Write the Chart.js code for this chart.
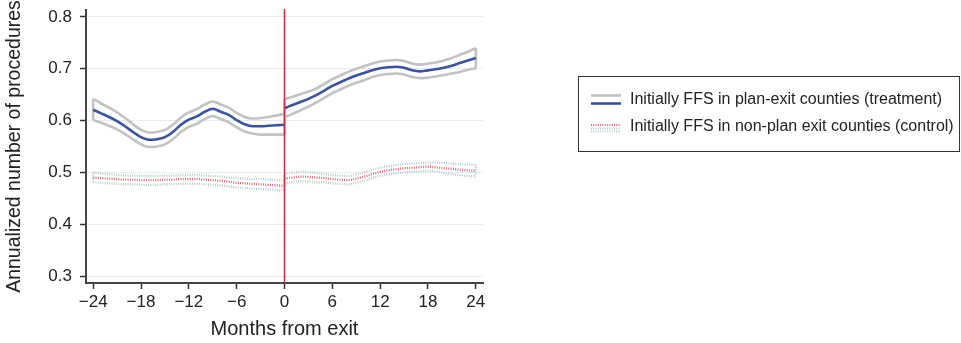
<!DOCTYPE html>
<html>
<head>
<meta charset="utf-8">
<script src="https://cdn.jsdelivr.net/npm/chart.js@4.4.1/dist/chart.umd.min.js"></script>
<style>
  html, body { margin: 0; padding: 0; background: #fff; }
  #wrap { width: 961px; height: 343px; }
</style>
</head>
<body>
<div id="wrap"><canvas id="c" width="961" height="343"></canvas></div>
<script>
// Months relative to the plan exit (before and after)
const preMonths  = [-24,-23,-22,-21,-20,-19,-18,-17,-16,-15,-14,-13,-12,-11,-10,-9,-8,-7,-6,-5,-4,-3,-2,-1,0];
const postMonths = [0,1,2,3,4,5,6,7,8,9,10,11,12,13,14,15,16,17,18,19,20,21,22,23,24];

// Treatment: initially FFS in plan-exit counties
const treatPreMean  = [0.621,0.614,0.607,0.599,0.589,0.578,0.568,0.563,0.564,0.568,0.578,0.592,0.602,0.608,0.617,0.623,0.617,0.611,0.601,0.593,0.589,0.589,0.590,0.591,0.592];
const treatPreUpper = [0.642,0.633,0.625,0.616,0.605,0.593,0.582,0.577,0.578,0.582,0.592,0.606,0.616,0.622,0.631,0.637,0.631,0.625,0.615,0.607,0.604,0.605,0.607,0.610,0.613];
const treatPreLower = [0.601,0.596,0.590,0.583,0.574,0.564,0.554,0.549,0.550,0.554,0.564,0.578,0.588,0.594,0.603,0.609,0.603,0.597,0.587,0.579,0.575,0.573,0.573,0.573,0.573];
const treatPostMean  = [0.624,0.630,0.636,0.642,0.649,0.658,0.667,0.674,0.681,0.687,0.692,0.697,0.701,0.703,0.704,0.702,0.697,0.695,0.697,0.699,0.702,0.706,0.711,0.716,0.721];
const treatPostUpper = [0.641,0.646,0.651,0.656,0.662,0.671,0.680,0.687,0.694,0.700,0.705,0.710,0.714,0.716,0.717,0.715,0.710,0.708,0.710,0.712,0.716,0.721,0.727,0.733,0.740];
const treatPostLower = [0.606,0.613,0.620,0.627,0.635,0.644,0.653,0.660,0.667,0.673,0.678,0.684,0.688,0.690,0.691,0.689,0.684,0.682,0.683,0.685,0.688,0.691,0.694,0.698,0.701];

// Control: initially FFS in non-plan exit counties
const ctrlPreMean  = [0.490,0.489,0.488,0.487,0.486,0.486,0.485,0.485,0.485,0.486,0.486,0.487,0.487,0.487,0.486,0.485,0.484,0.482,0.480,0.479,0.478,0.477,0.476,0.475,0.474];
const ctrlPreUpper = [0.500,0.498,0.497,0.495,0.494,0.494,0.493,0.493,0.493,0.494,0.494,0.495,0.495,0.495,0.494,0.493,0.492,0.490,0.489,0.488,0.487,0.487,0.486,0.485,0.484];
const ctrlPreLower = [0.481,0.480,0.479,0.478,0.477,0.477,0.476,0.476,0.476,0.477,0.477,0.478,0.478,0.478,0.477,0.476,0.475,0.473,0.471,0.470,0.469,0.468,0.467,0.466,0.465];
const ctrlPostMean  = [0.488,0.490,0.492,0.491,0.490,0.489,0.487,0.486,0.485,0.488,0.492,0.497,0.501,0.504,0.506,0.508,0.509,0.510,0.511,0.510,0.508,0.507,0.505,0.504,0.503];
const ctrlPostUpper = [0.498,0.499,0.501,0.500,0.499,0.497,0.495,0.494,0.493,0.496,0.500,0.505,0.509,0.512,0.514,0.516,0.517,0.518,0.519,0.519,0.518,0.517,0.516,0.515,0.515];
const ctrlPostLower = [0.478,0.481,0.483,0.482,0.481,0.481,0.479,0.478,0.477,0.480,0.484,0.489,0.493,0.496,0.498,0.500,0.501,0.502,0.503,0.502,0.499,0.497,0.495,0.493,0.492];

// Axis ticks and labels
const xTickValues = [-24,-18,-12,-6,0,6,12,18,24];
const xTickLabels = ['\u221224','\u221218','\u221212','\u22126','0','6','12','18','24'];
const yTickValues = [0.3,0.4,0.5,0.6,0.7,0.8];
const yTickLabels = ['0.3','0.4','0.5','0.6','0.7','0.8'];
const exitMonth = 0;
const seriesNames = [
  'Initially FFS in plan-exit counties (treatment)',
  'Initially FFS in non-plan exit counties (control)'
];

const FONT = '"Liberation Sans", Arial, Helvetica, sans-serif';
const BLUE = '#3653a8', GREY = '#c2c2c2', RED = '#d3263f';
const CTRL_RED = '#e96a76', CTRL_BAND = '#b9cdd1';

// Join the pre and post segments with a break at the exit month
function joined(xsA, ysA, xsB, ysB) {
  const a = xsA.map((x, i) => ({ x, y: ysA[i] }));
  const b = xsB.map((x, i) => ({ x, y: ysB[i] }));
  return [...a, { x: exitMonth, y: null }, ...b];
}
// End caps closing each confidence band
function caps(upA, loA, upB, loB) {
  const first = preMonths[0], lastPre = preMonths[preMonths.length - 1];
  const firstPost = postMonths[0], last = postMonths[postMonths.length - 1];
  return [
    { x: first, y: upA[0] }, { x: first, y: loA[0] }, { x: first, y: null },
    { x: lastPre, y: upA[upA.length - 1] }, { x: lastPre, y: loA[loA.length - 1] }, { x: lastPre, y: null },
    { x: firstPost, y: upB[0] }, { x: firstPost, y: loB[0] }, { x: firstPost, y: null },
    { x: last, y: upB[upB.length - 1] }, { x: last, y: loB[loB.length - 1] }
  ];
}

const smooth = { cubicInterpolationMode: 'monotone', pointRadius: 0, spanGaps: false, fill: false };
const dotted = [1, 1.3];

const datasets = [
  Object.assign({ label: 'treat mean', data: joined(preMonths, treatPreMean, postMonths, treatPostMean),
    borderColor: BLUE, borderWidth: 2.6, order: 0 }, smooth),
  Object.assign({ label: 'treat upper', data: joined(preMonths, treatPreUpper, postMonths, treatPostUpper),
    borderColor: GREY, borderWidth: 2.6, order: 1 }, smooth),
  Object.assign({ label: 'treat lower', data: joined(preMonths, treatPreLower, postMonths, treatPostLower),
    borderColor: GREY, borderWidth: 2.6, order: 1 }, smooth),
  { label: 'treat caps', data: caps(treatPreUpper, treatPreLower, treatPostUpper, treatPostLower),
    borderColor: GREY, borderWidth: 2.6, pointRadius: 0, spanGaps: false, tension: 0, order: 1 },
  Object.assign({ label: 'ctrl mean', data: joined(preMonths, ctrlPreMean, postMonths, ctrlPostMean),
    borderColor: CTRL_RED, borderWidth: 2.4, borderDash: dotted, order: 2 }, smooth),
  Object.assign({ label: 'ctrl upper', data: joined(preMonths, ctrlPreUpper, postMonths, ctrlPostUpper),
    borderColor: CTRL_BAND, borderWidth: 2.4, borderDash: dotted, order: 3 }, smooth),
  Object.assign({ label: 'ctrl lower', data: joined(preMonths, ctrlPreLower, postMonths, ctrlPostLower),
    borderColor: CTRL_BAND, borderWidth: 2.4, borderDash: dotted, order: 3 }, smooth),
  { label: 'ctrl caps', data: caps(ctrlPreUpper, ctrlPreLower, ctrlPostUpper, ctrlPostLower),
    borderColor: CTRL_BAND, borderWidth: 2.4, borderDash: dotted, pointRadius: 0, spanGaps: false, tension: 0, order: 3 }
];

// Vertical marker at the exit month
const exitLine = {
  id: 'exitLine',
  afterDatasetsDraw(chart) {
    const { ctx, chartArea, scales } = chart;
    const x = scales.x.getPixelForValue(exitMonth);
    ctx.save();
    ctx.strokeStyle = RED;
    ctx.lineWidth = 1.5;
    ctx.beginPath();
    ctx.moveTo(x, chartArea.top - 1);
    ctx.lineTo(x, chartArea.bottom);
    ctx.stroke();
    ctx.restore();
  }
};

// Boxed legend with two-line samples
const boxLegend = {
  id: 'boxLegend',
  afterDraw(chart) {
    const ctx = chart.ctx;
    ctx.save();
    ctx.strokeStyle = '#333';
    ctx.lineWidth = 1;
    ctx.strokeRect(578.5, 76.5, 381, 75);
    const seg = (y, color, w, dash) => {
      ctx.beginPath();
      ctx.setLineDash(dash);
      ctx.strokeStyle = color;
      ctx.lineWidth = w;
      ctx.moveTo(591, y);
      ctx.lineTo(621, y);
      ctx.stroke();
    };
    seg(95.5, GREY, 2.6, []);
    seg(103.5, BLUE, 2.6, []);
    seg(125, CTRL_RED, 2, dotted);
    seg(128.5, CTRL_BAND, 2, dotted);
    seg(131.5, CTRL_BAND, 2, dotted);
    ctx.setLineDash([]);
    ctx.fillStyle = '#222';
    ctx.font = '16px ' + FONT;
    ctx.textBaseline = 'middle';
    ctx.textAlign = 'left';
    ctx.fillText(seriesNames[0], 630, 100);
    ctx.fillText(seriesNames[1], 630, 127);
    ctx.restore();
  }
};

new Chart(document.getElementById('c'), {
  type: 'line',
  data: { datasets },
  plugins: [exitLine, boxLegend],
  options: {
    responsive: false,
    animation: false,
    devicePixelRatio: 1,
    layout: { padding: { top: 10, right: 478, left: 0, bottom: 0 } },
    plugins: { legend: { display: false }, tooltip: { enabled: false } },
    scales: {
      x: {
        type: 'linear',
        min: -24.9,
        max: 24.9,
        afterBuildTicks: (s) => { s.ticks = xTickValues.map(v => ({ value: v })); },
        afterFit: (s) => { s.height = 60; s.paddingLeft = 0; s.paddingRight = 0; },
        ticks: {
          callback: (v, i) => xTickLabels[i],
          color: '#222',
          font: { family: FONT, size: 17 },
          padding: 3,
          maxRotation: 0,
          autoSkip: false
        },
        grid: { drawOnChartArea: false, drawTicks: true, tickLength: 6, tickColor: '#333', tickWidth: 1.5 },
        border: { display: true, color: '#444', width: 2 },
        title: { display: true, text: 'Months from exit', color: '#222',
                 font: { family: FONT, size: 20 }, padding: { top: 0, bottom: 2 } }
      },
      y: {
        type: 'linear',
        min: 0.2865,
        max: 0.8135,
        afterBuildTicks: (s) => { s.ticks = yTickValues.map(v => ({ value: v })); },
        afterFit: (s) => { s.width = 86; s.paddingTop = 0; s.paddingBottom = 0; },
        ticks: {
          callback: (v, i) => yTickLabels[i],
          color: '#222',
          font: { family: FONT, size: 17 },
          padding: 8
        },
        grid: { color: '#e4eeef', lineWidth: 1, drawTicks: true, tickLength: 6, tickColor: '#333', tickWidth: 1.5 },
        border: { display: true, color: '#444', width: 2 },
        title: { display: true, text: 'Annualized number of procedures', color: '#222',
                 font: { family: FONT, size: 19.5 }, padding: { top: 3, bottom: 0 } }
      }
    }
  }
});
</script>
</body>
</html>
